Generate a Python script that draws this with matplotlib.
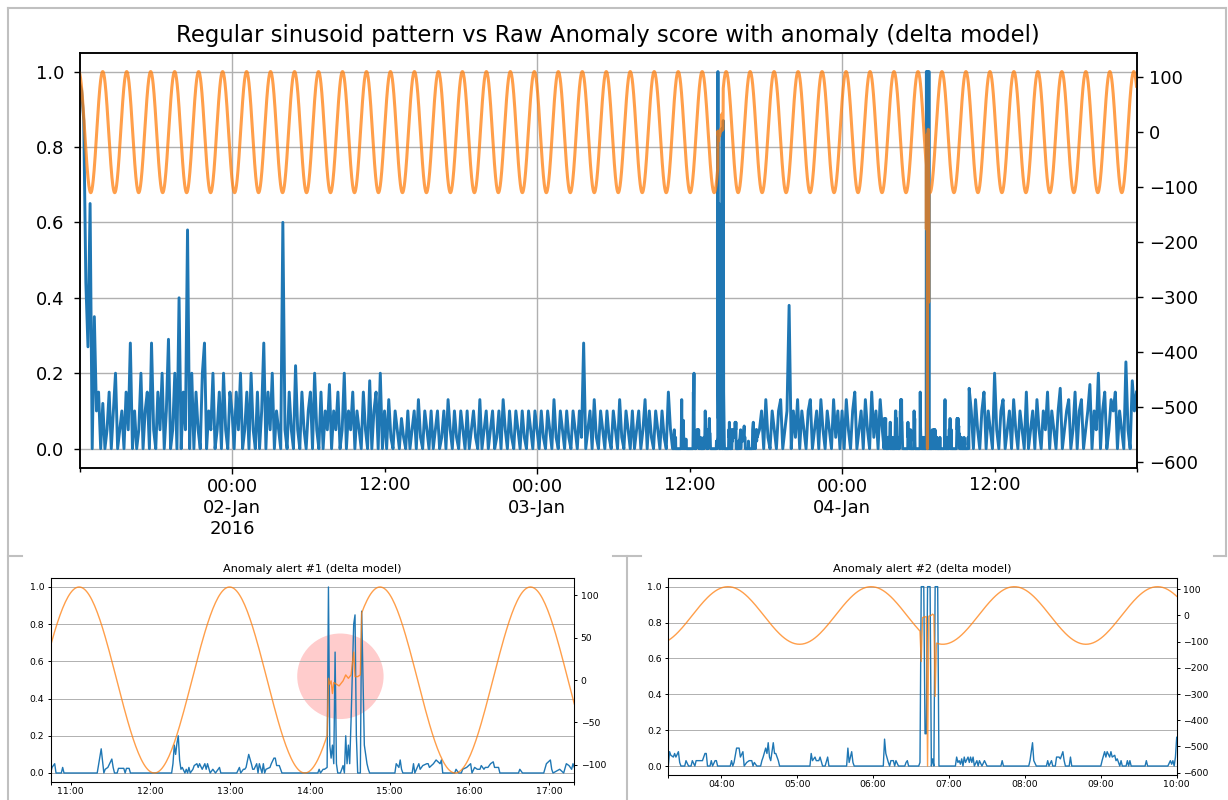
import numpy as np
import pandas as pd
import matplotlib
matplotlib.use("Agg")
import matplotlib.pyplot as plt
import matplotlib.dates as mdates
from matplotlib.ticker import FixedLocator, FixedFormatter, MultipleLocator
from matplotlib.patches import Ellipse
from matplotlib.lines import Line2D

BLUE = "#1f77b4"
ORANGE = "#ff7f0e"
GRID = "#b0b0b0"
FRAME = "#c0c0c0"

# regular sinusoid on the right axis
sine_amplitude = 110.0
sine_period_min = 113.2
sine_peak = "2016-01-03 11:06:24"
sine_start = "2016-01-01 12:00"
sine_end = "2016-01-04 23:10"

# raw anomaly score, 10 minute samples (alert windows are given finer below)
score_jan1_pm = [
    .97, .95, .87, .44, .27, .65, 0, .35, .1, .15, 0, .12,
    0, .05, .15, 0, .1, .2, 0, .05, .1, 0, .15, .05,
    .28, 0, .1, 0, .05, .2, 0, .1, .15, 0, .28, .05,
    0, .15, .05, .2, 0, .1, .29, 0, .05, .2, 0, .4,
    0, .15, .05, .58, 0, .2, 0, .15, .05, 0, .2, .28,
    0, .1, .05, .2, 0, .05, .15, 0, .2, .05, 0, .15,
]
score_jan2_am = [
    .1, 0, .15, .05, .2, 0, .05, .15, 0, .2, .05, 0,
    .15, 0, .1, .28, 0, .15, .05, .2, 0, .1, .05, 0,
    .6, .05, 0, .15, .05, 0, .22, .05, 0, .15, .05, 0,
    .1, .15, 0, .2, .05, 0, .15, 0, .1, .05, .17, 0,
    .1, .05, .15, 0, .05, .2, 0, .1, .05, .15, 0, .1,
    .05, 0, .15, .05, 0, .18, 0, .1, .15, 0, .2, 0,
]
score_jan2_pm = [
    .1, 0, .13, .03, 0, .1, .05, 0, .08, .03, 0, .1,
    0, .05, .1, 0, .13, .03, 0, .1, .05, 0, .1, 0,
    .05, .1, 0, .03, .1, 0, .13, .05, 0, .1, .03, 0,
    .1, .05, 0, .1, 0, .05, .1, .03, 0, .13, 0, .05,
    .1, 0, .05, .1, 0, .03, .1, 0, .13, .05, 0, .1,
    .03, 0, .1, .05, 0, .1, .03, 0, .1, .05, 0, .1,
]
score_jan3_am = [
    .05, 0, .1, .03, 0, .1, .05, 0, .13, .03, 0, .1,
    .05, 0, .1, .03, 0, .1, .05, 0, .1, .03, .28, 0,
    .05, .1, 0, .13, .03, 0, .1, .05, 0, .1, .03, 0,
    .1, .05, 0, .13, .03, 0, .1, .05, 0, .1, 0, .05,
    .1, 0, .05, .13, 0, .1, .03, 0, .1, .05, 0, .1,
    .03, 0, .15, .05, 0,
]
score_jan3_pm = [
    .05, .1, 0, .13, .03, 0, .1, .05, 0, .1, .13, 0, .05, .1,
    .38, 0, .1, .03, .13, 0, .1, .05, 0, .1, .13, 0, .05, .1,
    0, .13, .05, 0, .1, .05, 0, .13, .03, .1, 0,
]
score_jan4_early = [
    .1, 0, .13, .05, 0, .1, .15, 0, .05, .1,
    0, .13, .05, 0, .15, .03, .1, 0, .13, .05,
]
score_jan4_pm = [
    .1, 0, .13, .05, 0, .1, .15, 0, .1, .05,
    0, .2, .05, 0, .1, .13, 0, .05, .1, 0,
    .13, .05, 0, .1, .05, 0, .15, 0, .05, .1,
    0, .13, .05, 0, .1, .05, .15, 0, .1, .05,
    0, .1, .16, 0, .05, .1, .13, 0, .05, .15,
    0, .1, .13, 0, .05, .1, .17, 0, .1, .05,
    .2, 0, .1, .15, 0, .05, .13, .1, .15, 0,
    .1, .05, 0, .23, .05, 0, .18, .1, .15,
]
score_block_starts = ["2016-01-01 12:00", "2016-01-02 00:00", "2016-01-02 12:00",
                      "2016-01-03 00:00", "2016-01-03 17:30", "2016-01-04 00:00",
                      "2016-01-04 10:10"]

# alert #1 window, 2016-01-03
alert1_day = "2016-01-03"
alert1_span = ("10:45", "17:19")
alert1_score = [
    ("10:45", 0), ("10:46", .03), ("10:47", .04), ("10:48", .05), ("10:49", 0), ("10:53", 0),
    ("10:54", .03), ("10:55", 0), ("11:20", 0), ("11:23", .13), ("11:25", 0), ("11:26", .02),
    ("11:28", .03), ("11:31", .075), ("11:32", .03), ("11:33", 0), ("11:35", 0), ("11:36", .025),
    ("11:40", .025), ("11:41", 0), ("11:42", .025), ("11:44", .025), ("11:45", 0),
    ("12:16", 0), ("12:17", .05), ("12:18", .15), ("12:19", .1), ("12:20", .16), ("12:21", .2),
    ("12:22", .07), ("12:23", .02), ("12:24", .03), ("12:26", 0), ("12:27", .02), ("12:28", 0),
    ("12:29", .03), ("12:30", 0), ("12:32", .02), ("12:33", .04), ("12:35", .05), ("12:36", .03),
    ("12:37", .05), ("12:39", .02), ("12:41", .05), ("12:42", .02), ("12:43", .05), ("12:45", 0),
    ("12:47", .02), ("12:49", 0), ("12:52", .03), ("12:53", 0),
    ("13:05", 0), ("13:07", .03), ("13:08", 0), ("13:10", .02), ("13:11", .02), ("13:12", .03),
    ("13:14", .1), ("13:16", .05), ("13:17", .02), ("13:18", .02), ("13:20", .05), ("13:21", 0),
    ("13:22", .05), ("13:24", 0), ("13:25", .05), ("13:26", 0), ("13:27", .02), ("13:30", .03),
    ("13:31", .05), ("13:33", .08), ("13:34", .08), ("13:35", .04), ("13:37", .04), ("13:39", 0),
    ("14:06", 0), ("14:07", .02), ("14:08", 0), ("14:10", .02), ("14:11", .02), ("14:13", .03),
    ("14:14", 1.0), ("14:15", .15), ("14:16", .08), ("14:17", .15), ("14:18", .05), ("14:19", .65),
    ("14:20", .05), ("14:21", 0), ("14:23", 0), ("14:25", .04), ("14:26", 0), ("14:27", .2),
    ("14:28", .05), ("14:29", .15), ("14:30", .05), ("14:31", .28), ("14:33", .8), ("14:34", .85),
    ("14:35", .2), ("14:36", 0), ("14:38", 0), ("14:39", .87), ("14:41", .15), ("14:42", .1),
    ("14:43", .05), ("14:44", .02), ("14:45", 0),
    ("15:04", 0), ("15:05", .05), ("15:07", .03), ("15:08", .07), ("15:09", .02), ("15:10", 0),
    ("15:17", 0), ("15:18", .05), ("15:19", 0), ("15:22", .05), ("15:23", .02), ("15:25", .04),
    ("15:28", .05), ("15:29", .05), ("15:30", .03), ("15:33", .05), ("15:35", .07), ("15:38", .05),
    ("15:39", .07), ("15:40", 0), ("15:49", 0), ("15:50", .02), ("15:52", 0), ("15:54", 0),
    ("15:55", .02), ("15:58", .03), ("16:01", .05), ("16:02", 0), ("16:04", .03), ("16:06", .02),
    ("16:08", .02), ("16:09", .04), ("16:11", .02), ("16:12", .03), ("16:14", .03), ("16:16", .05),
    ("16:18", .06), ("16:19", .03), ("16:22", .03), ("16:23", 0), ("16:37", 0), ("16:38", .02),
    ("16:40", 0), ("16:56", 0), ("16:58", .05), ("17:01", .07), ("17:02", .02), ("17:03", 0),
    ("17:08", .02), ("17:11", 0), ("17:13", .05), ("17:15", .04), ("17:17", .02), ("17:18", .05),
    ("17:19", .03),
]
alert1_signal = [
    ("14:14", 2), ("14:15", -5), ("14:16", -1), ("14:17", -16), ("14:18", -3), ("14:20", -5),
    ("14:22", -7), ("14:25", -1), ("14:27", 6), ("14:29", 2), ("14:31", 6), ("14:33", 33),
    ("14:34", 4), ("14:36", 4), ("14:38", 6),
]
alert1_marker = ("14:23", 0.52)

# alert #2 window, 2016-01-04
alert2_day = "2016-01-04"
alert2_span = ("03:18", "10:00")
alert2_score = [
    ("03:18", 0), ("03:19", .08), ("03:20", .06), ("03:22", .05), ("03:23", .07), ("03:24", .05),
    ("03:26", .08), ("03:27", .02), ("03:28", 0), ("03:31", 0), ("03:32", .03), ("03:34", 0),
    ("03:36", 0), ("03:37", .03), ("03:39", 0), ("03:40", .03), ("03:43", .03), ("03:45", .03),
    ("03:47", .07), ("03:48", .07), ("03:49", 0), ("03:51", 0), ("03:52", .03), ("03:53", 0),
    ("03:55", .03), ("03:56", .03), ("03:57", 0),
    ("04:07", 0), ("04:08", .03), ("04:09", 0), ("04:10", .02), ("04:12", .1), ("04:14", .1),
    ("04:15", .05), ("04:17", .08), ("04:18", 0), ("04:20", .02), ("04:22", .03), ("04:24", .03),
    ("04:25", 0), ("04:26", .02), ("04:28", 0), ("04:31", 0), ("04:32", .03), ("04:33", .05),
    ("04:35", .1), ("04:36", .07), ("04:37", .13), ("04:38", .05), ("04:39", .03), ("04:41", .13),
    ("04:42", .07), ("04:43", .07), ("04:45", .03), ("04:46", 0),
    ("05:10", 0), ("05:11", .07), ("05:12", .03), ("05:14", .05), ("05:15", .03), ("05:17", .03),
    ("05:18", .05), ("05:20", 0), ("05:22", 0), ("05:24", .05), ("05:25", 0), ("05:39", 0),
    ("05:40", .1), ("05:41", .02), ("05:43", .08), ("05:44", .02), ("05:45", 0),
    ("06:08", 0), ("06:09", .15), ("06:10", .07), ("06:12", .02), ("06:13", 0), ("06:14", .03),
    ("06:16", .03), ("06:17", 0), ("06:18", .03), ("06:20", 0), ("06:25", 0), ("06:26", .02),
    ("06:27", .03), ("06:28", 0), ("06:36", 0), ("06:37", .02), ("06:38", 1.0), ("06:40", 1.0),
    ("06:41", .18), ("06:42", .18), ("06:43", 1.0), ("06:45", 1.0), ("06:46", 0), ("06:47", .04),
    ("06:48", 0), ("06:49", 1.0), ("06:51", 1.0), ("06:52", 0),
    ("07:05", 0), ("07:06", .05), ("07:07", .02), ("07:08", .03), ("07:09", .01), ("07:10", .04),
    ("07:11", 0), ("07:12", .05), ("07:13", .02), ("07:15", .05), ("07:16", .02), ("07:17", .05),
    ("07:18", .02), ("07:19", .05), ("07:20", 0), ("07:22", .03), ("07:23", 0), ("07:24", .03),
    ("07:26", 0), ("07:28", .03), ("07:30", 0), ("07:41", 0), ("07:42", .03), ("07:43", 0),
    ("08:03", 0), ("08:04", .03), ("08:06", .13), ("08:07", .03), ("08:09", 0), ("08:17", 0),
    ("08:18", .03), ("08:19", 0), ("08:21", .03), ("08:22", 0), ("08:24", 0), ("08:25", .05),
    ("08:27", .05), ("08:28", .04), ("08:30", .08), ("08:31", .03), ("08:32", 0), ("08:35", 0),
    ("08:36", .05), ("08:37", 0),
    ("09:00", 0), ("09:01", .03), ("09:03", .08), ("09:04", .05), ("09:05", .08), ("09:07", .05),
    ("09:08", .08), ("09:09", .05), ("09:11", .06), ("09:12", .03), ("09:13", .04), ("09:15", 0),
    ("09:16", .03), ("09:17", 0), ("09:20", 0), ("09:21", .03), ("09:22", 0), ("09:23", .03),
    ("09:24", 0), ("09:35", 0), ("09:36", .03), ("09:37", 0), ("09:53", 0), ("09:55", .03),
    ("09:56", .01), ("09:57", .03), ("09:58", 0), ("09:59", .05), ("10:00", .16),
]
alert2_signal = [
    ("06:38", -176), ("06:39", -8), ("06:41", -5), ("06:42", -5), ("06:43", -575), ("06:44", -3),
    ("06:46", 1), ("06:47", 5), ("06:48", 1), ("06:49", -309),
]

main_title = "Regular sinusoid pattern vs Raw Anomaly score with anomaly (delta model)"
day_ticks = ["2016-01-02", "2016-01-03", "2016-01-04"]
day_labels = ["00:00\n02-Jan\n2016", "00:00\n03-Jan", "00:00\n04-Jan"]
noon_ticks = ["2016-01-02 12:00", "2016-01-03 12:00", "2016-01-04 12:00"]


def fx(px):
    return px / 1228.0


def fy(py):
    return 1.0 - py / 800.0


def rect(left, top, right, bottom):
    return [fx(left), fy(bottom), fx(right) - fx(left), fy(top) - fy(bottom)]


def pairs_to_series(day, pairs):
    idx = pd.to_datetime([f"{day} {t}" for t, _ in pairs])
    return pd.Series([v for _, v in pairs], index=idx, dtype=float)


def build_score():
    blocks = [score_jan1_pm, score_jan2_am, score_jan2_pm, score_jan3_am,
              score_jan3_pm, score_jan4_early, score_jan4_pm]
    parts = []
    for start, vals in zip(score_block_starts, blocks):
        idx = pd.date_range(start, periods=len(vals), freq="10min")
        parts.append(pd.Series(vals, index=idx, dtype=float))
    parts.append(pairs_to_series(alert1_day, alert1_score))
    parts.append(pairs_to_series(alert2_day, alert2_score))
    return pd.concat(parts).sort_index()


def build_signal():
    idx = pd.date_range(sine_start, sine_end, freq="1min")
    minutes = (idx - pd.Timestamp(sine_peak)).total_seconds() / 60.0
    base = pd.Series(sine_amplitude * np.cos(2 * np.pi * minutes / sine_period_min), index=idx)
    for day, pairs in [(alert1_day, alert1_signal), (alert2_day, alert2_signal)]:
        anomaly = pairs_to_series(day, pairs)
        keep = (base.index < anomaly.index[0]) | (base.index > anomaly.index[-1])
        base = pd.concat([base[keep], anomaly]).sort_index()
    return base


score = build_score()
signal = build_signal()

fig = plt.figure(figsize=(12.28, 8.0), dpi=100)

# ---- main overview ----
ax = fig.add_axes(rect(79.5, 52.7, 1136.5, 467.5))
ax.plot(score.index, score.values, color=BLUE, lw=2.1)
ax.set_xlim(score.index[0], score.index[-1])
ax.set_ylim(-0.05, 1.05)
ax.yaxis.set_major_locator(MultipleLocator(0.2))
ax.xaxis.set_major_locator(FixedLocator(mdates.date2num(pd.to_datetime(day_ticks))))
ax.xaxis.set_major_formatter(FixedFormatter(day_labels))
edges = [score.index[0]] + list(pd.to_datetime(noon_ticks)) + [score.index[-1]]
ax.xaxis.set_minor_locator(FixedLocator(mdates.date2num(edges)))
ax.xaxis.set_minor_formatter(FixedFormatter([""] + ["12:00"] * len(noon_ticks) + [""]))
ax.grid(True, which="major", color=GRID, lw=1.0)
ax.tick_params(axis="y", labelsize=13, length=4.3, width=1, pad=6.5)
ax.tick_params(axis="x", which="major", labelsize=13, length=4.3, width=1, pad=3.5)
ax.tick_params(axis="x", which="minor", labelsize=13, length=2.8, width=1, pad=3.5)
ax.set_title(main_title, fontsize=16.4, pad=8)

ax2 = ax.twinx()
ax2.plot(signal.index, signal.values, color=ORANGE, lw=2.2, alpha=0.75)
ax2.yaxis.set_major_locator(MultipleLocator(100))
ax2.tick_params(axis="y", labelsize=13, length=4.3, width=1, pad=4.5)
for a in (ax, ax2):
    for sp in a.spines.values():
        sp.set_linewidth(1.1)


# ---- alert close-ups ----
def alert_panel(box, day, span, title, right_step):
    t0 = pd.Timestamp(f"{day} {span[0]}")
    t1 = pd.Timestamp(f"{day} {span[1]}")
    s = score[t0:t1]
    g = signal[t0:t1]
    a = fig.add_axes(rect(*box))
    a.plot(s.index, s.values, color=BLUE, lw=1.0)
    a.set_xlim(t0, t1)
    a.set_ylim(-0.05, 1.05)
    a.yaxis.set_major_locator(MultipleLocator(0.2))
    a.xaxis.set_major_locator(mdates.HourLocator())
    a.xaxis.set_major_formatter(mdates.DateFormatter("%H:%M"))
    a.xaxis.set_minor_locator(FixedLocator(mdates.date2num([t0, t1])))
    a.grid(True, axis="y", color=GRID, lw=0.7)
    a.tick_params(axis="y", labelsize=6.7, length=2.4, width=0.7, pad=2.3)
    a.tick_params(axis="x", which="both", labelsize=6.7, length=2.4, width=0.7, pad=1.2)
    a.set_title(title, fontsize=8.1, pad=4)
    b = a.twinx()
    b.plot(g.index, g.values, color=ORANGE, lw=1.0, alpha=0.75)
    b.yaxis.set_major_locator(MultipleLocator(right_step))
    b.tick_params(axis="y", labelsize=6.7, length=2.4, width=0.7, pad=2.2)
    for ax_ in (a, b):
        for sp in ax_.spines.values():
            sp.set_linewidth(0.75)
    return a, b


al, _ = alert_panel((50.7, 577.7, 574.3, 782.3), alert1_day, alert1_span,
                    "Anomaly alert #1 (delta model)", 50)
ar, _ = alert_panel((668.3, 577.7, 1176.7, 775.0), alert2_day, alert2_span,
                    "Anomaly alert #2 (delta model)", 100)

# highlight the first alert
mx = mdates.date2num(pd.Timestamp(f"{alert1_day} {alert1_marker[0]}"))
al.add_patch(Ellipse((mx, alert1_marker[1]), width=65 / 1440.0, height=0.46,
                     facecolor="red", alpha=0.2, edgecolor="none", zorder=1.5))

# light page frame around the panels
frame = [
    ((8, 8), (1226, 8)), ((8, 8), (8, 800)), ((1226, 8), (1226, 556)),
    ((8, 556), (22, 556)), ((1214, 556), (1226, 556)),
    ((613, 556), (641, 556)), ((627, 556), (627, 800)),
]
for (x0, y0), (x1, y1) in frame:
    fig.add_artist(Line2D([fx(x0), fx(x1)], [fy(y0), fy(y1)], transform=fig.transFigure,
                          color=FRAME, lw=1.5))

fig.savefig("out.png", dpi=100)
